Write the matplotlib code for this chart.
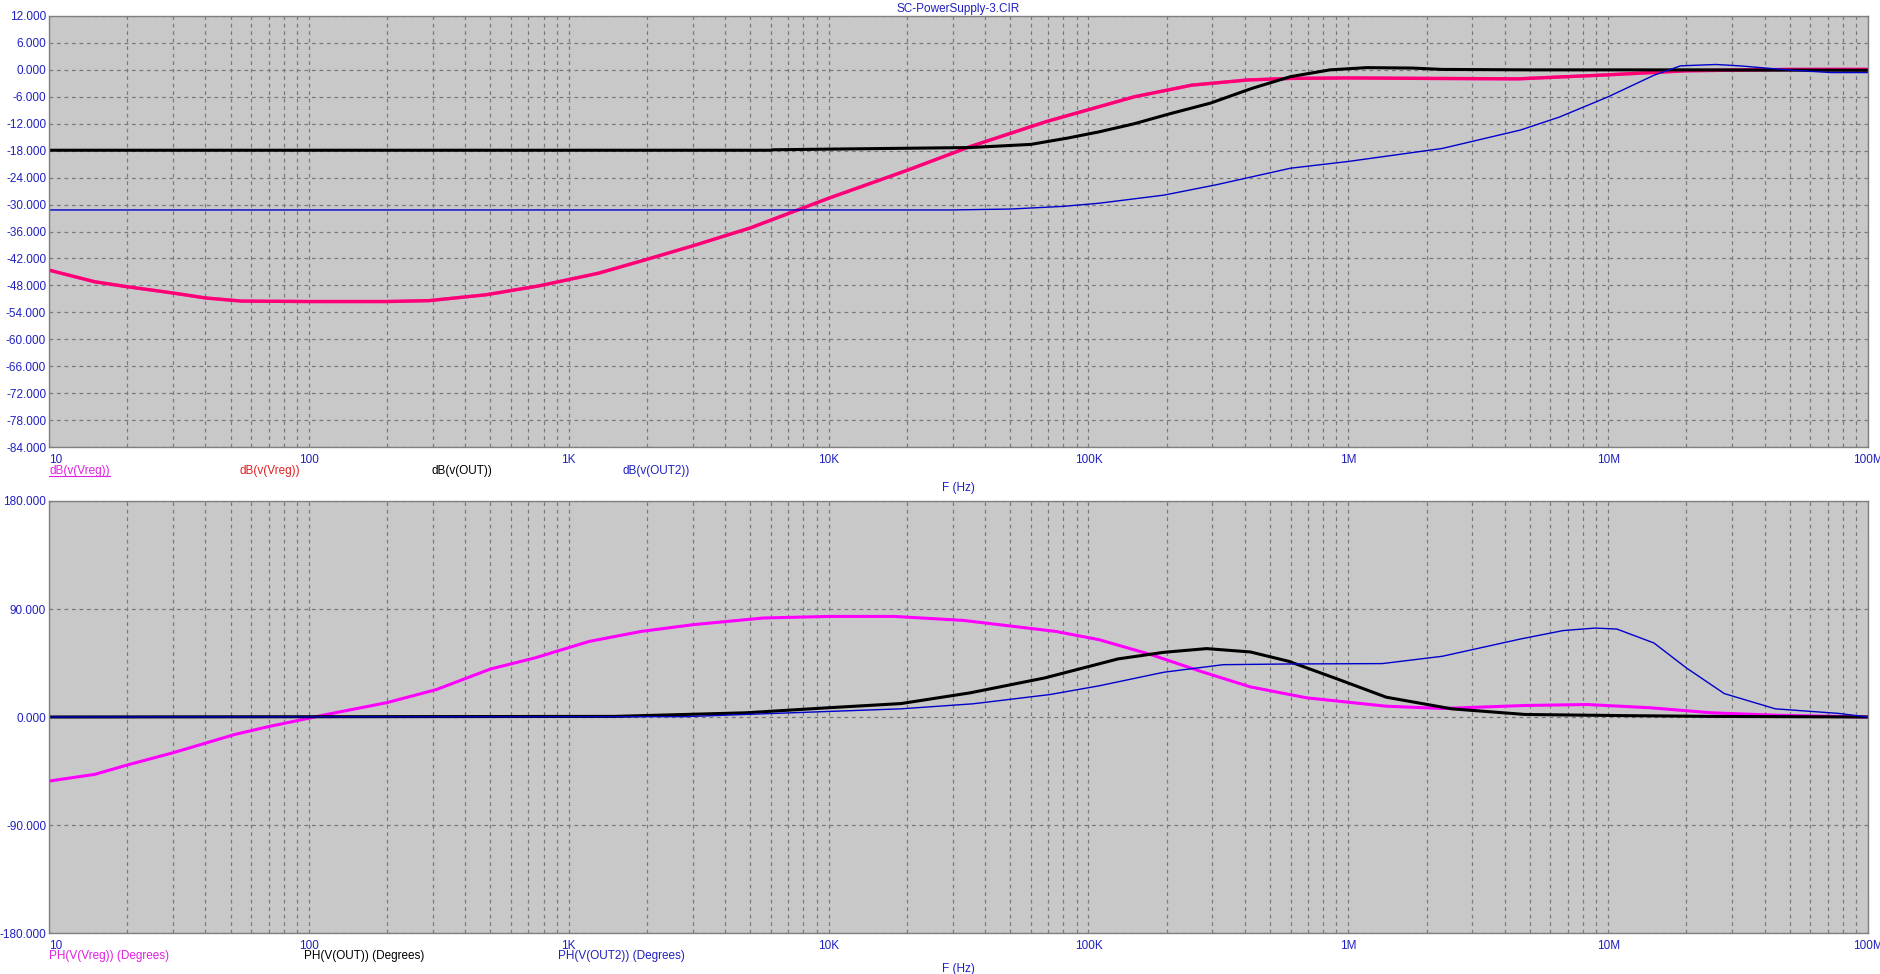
import matplotlib
matplotlib.use("Agg")
import matplotlib.pyplot as plt
from matplotlib.lines import Line2D
from matplotlib.ticker import LogLocator, FixedLocator, NullFormatter

plt.rcParams['font.family'] = ['Liberation Sans', 'DejaVu Sans']

# --- dB plot data ---
f_db_vreg = [10, 15, 20, 30, 40, 55, 100, 200, 290, 480, 770, 1.3e3, 2e3, 3e3, 5e3, 7e3, 1e4,
             2e4, 3.5e4, 6.9e4, 1.5e5, 2.5e5, 4.1e5, 6e5, 1e6, 2e6, 4.5e6, 1e7, 2e7, 5e7, 1e8]
db_vreg = [-44.6, -47.2, -48.3, -49.7, -50.8, -51.5, -51.6, -51.6, -51.4, -50.1, -48.1, -45.3,
           -42.2, -39.2, -35.2, -32.0, -28.6, -22.4, -17.1, -11.5, -6.0, -3.4, -2.25, -1.9,
           -1.8, -1.9, -2.0, -1.1, -0.2, 0.1, 0.1]

f_db_out = [10, 6e3, 6.1e3, 1.2e4, 3.5e4, 6e4, 8.3e4, 1.1e5, 1.5e5, 2.05e5, 2.95e5, 4.27e5,
            6e5, 8.5e5, 1.18e6, 1.77e6, 2.3e6, 5e6, 2e7, 1e8]
db_out = [-17.9, -17.9, -17.8, -17.6, -17.3, -16.6, -15.2, -13.8, -12.0, -9.8, -7.4, -4.1,
          -1.5, 0.0, 0.5, 0.4, 0.1, 0.0, 0.0, -0.1]

f_db_out2 = [10, 3e4, 5e4, 8e4, 1.1e5, 1.95e5, 3.1e5, 6e5, 1e6, 2.3e6, 4.6e6, 6.5e6, 1e7,
             1.5e7, 1.9e7, 2.6e7, 3.2e7, 4.9e7, 7.2e7, 1e8]
db_out2 = [-31.2, -31.2, -31.0, -30.4, -29.7, -27.9, -25.6, -21.9, -20.4, -17.5, -13.4, -10.5,
           -6.0, -1.2, 0.9, 1.2, 0.9, 0.0, -0.6, -0.6]

# --- phase plot data ---
f_ph_vreg = [10, 15, 20, 30, 52, 70, 117, 200, 310, 500, 740, 1.2e3, 1.9e3, 3e3, 5.6e3, 1e4,
             1.8e4, 3.3e4, 7.5e4, 1.1e5, 1.74e5, 2.7e5, 4.2e5, 6.9e5, 1.4e6, 2.3e6, 4.8e6,
             8.3e6, 1.45e7, 2.5e7, 4.4e7, 1e8]
ph_vreg = [-53.4, -47.8, -40.0, -29.8, -14.5, -8.0, 2.1, 12.0, 22.9, 40.0, 49.2, 63.0, 71.3,
           76.9, 82.5, 83.8, 83.8, 80.5, 71.3, 64.4, 52.0, 38.1, 25.1, 16.0, 9.0, 7.1, 9.6,
           10.4, 7.7, 3.5, 1.5, 0.0]

f_ph_out = [10, 1.5e3, 4.8e3, 9.8e3, 1.9e4, 3.5e4, 6.8e4, 1.3e5, 1.95e5, 2.85e5, 4.2e5, 5.9e5,
            9.2e5, 1.4e6, 2.5e6, 4.8e6, 1.1e7, 2.5e7, 1e8]
ph_out = [0, 0.5, 3.5, 7.6, 11.2, 20.1, 32.6, 48.4, 53.9, 57.0, 54.2, 46.4, 31.2, 16.5, 6.8,
          2.1, 1.2, 0.5, 0]

f_ph_out2 = [10, 2.8e3, 1.9e4, 3.6e4, 7.1e4, 1.1e5, 1.95e5, 3.3e5, 6e5, 1.35e6, 2.3e6, 4.6e6,
             6.7e6, 8.9e6, 1.08e7, 1.5e7, 2.0e7, 2.8e7, 4.4e7, 7.7e7, 1e8]
ph_out2 = [0, 0.3, 6.8, 11.0, 18.7, 26.0, 37.3, 43.6, 44.2, 44.5, 50.6, 65.0, 72.0, 74.1, 73.3,
           61.7, 40.9, 19.5, 6.8, 3.0, 0]

x_ticks = [10, 100, 1e3, 1e4, 1e5, 1e6, 1e7, 1e8]
x_labels = ['10', '100', '1K', '10K', '100K', '1M', '10M', '100M']
db_ticks = list(range(-84, 13, 6))
ph_ticks = [-180, -90, 0, 90, 180]

BLUE_TXT = '#2020C0'
BG = '#C8C8C8'
GRID = '#7A7A7A'

W, H = 1881, 974
fig = plt.figure(figsize=(W / 100, H / 100), dpi=100)
fig.patch.set_facecolor('white')


def px(x0, y0, x1, y1):
    return [x0 / W, 1 - y1 / H, (x1 - x0) / W, (y1 - y0) / H]


def style_axes(ax, yticks, ylim):
    ax.set_facecolor(BG)
    ax.set_xscale('log')
    ax.set_xlim(10, 1e8)
    ax.set_ylim(*ylim)
    ax.xaxis.set_major_locator(FixedLocator(x_ticks))
    ax.xaxis.set_minor_locator(LogLocator(base=10, subs=range(2, 10), numticks=100))
    ax.xaxis.set_minor_formatter(NullFormatter())
    ax.set_xticks(x_ticks)
    ax.set_xticklabels(x_labels)
    ax.set_yticks(yticks)
    ax.set_yticklabels(['%.3f' % v for v in yticks])
    ax.tick_params(axis='both', which='both', length=0, labelsize=8.5, labelcolor=BLUE_TXT)
    ax.tick_params(axis='x', pad=5)
    ax.tick_params(axis='y', pad=2)
    for lab in ax.get_xticklabels():
        lab.set_ha('center')
    ax.get_xticklabels()[0].set_ha('left')
    ax.grid(True, which='both', axis='x', color=GRID, linestyle=(0, (3, 3)), linewidth=0.9)
    ax.grid(True, which='major', axis='y', color=GRID, linestyle=(0, (3, 3)), linewidth=0.9)
    for s in ax.spines.values():
        s.set_color('#808080')
        s.set_linewidth(1)


# top: magnitude
ax1 = fig.add_axes(px(49, 16, 1868, 447))
style_axes(ax1, db_ticks, (-84, 12))
ax1.plot(f_db_vreg, db_vreg, color='#FF00FF', lw=2.4)
ax1.plot(f_db_vreg, db_vreg, color='#FF0000', lw=2.4, alpha=0.55)
ax1.plot(f_db_out, db_out, color='black', lw=2.2)
ax1.plot(f_db_out2, db_out2, color='#0000CC', lw=1.0)

# bottom: phase
ax2 = fig.add_axes(px(49, 501, 1868, 933))
style_axes(ax2, ph_ticks, (-180, 180))
ax2.plot(f_ph_vreg, ph_vreg, color='#FF00FF', lw=2.2)
ax2.plot(f_ph_out, ph_out, color='black', lw=2.2)
ax2.plot(f_ph_out2, ph_out2, color='#0000CC', lw=1.0)


def ftext(x, y, s, color, **kw):
    return fig.text(x / W, 1 - y / H, s, color=color, fontsize=8.5, va='center', **kw)


ftext(958, 9, 'SC-PowerSupply-3.CIR', BLUE_TXT, ha='center')
u = ftext(49, 471, 'dB(v(Vreg))', '#E020E0', ha='left')
ftext(240, 471, 'dB(v(Vreg))', '#E02020', ha='left')
ftext(432, 471, 'dB(v(OUT))', 'black', ha='left')
ftext(623, 471, 'dB(v(OUT2))', BLUE_TXT, ha='left')
ftext(958, 488, 'F (Hz)', BLUE_TXT, ha='center')

ftext(49, 956, 'PH(V(Vreg)) (Degrees)', '#E020E0', ha='left')
ftext(304, 956, 'PH(V(OUT)) (Degrees)', 'black', ha='left')
ftext(558, 956, 'PH(V(OUT2)) (Degrees)', BLUE_TXT, ha='left')
ftext(958, 969, 'F (Hz)', BLUE_TXT, ha='center')

# underline the first legend entry
fig.canvas.draw()
bb = u.get_window_extent().transformed(fig.transFigure.inverted())
fig.add_artist(Line2D([bb.x0, bb.x1], [bb.y0 + 0.001, bb.y0 + 0.001],
                      transform=fig.transFigure, color='#E020E0', lw=0.8))

fig.savefig('out.png', dpi=100)
